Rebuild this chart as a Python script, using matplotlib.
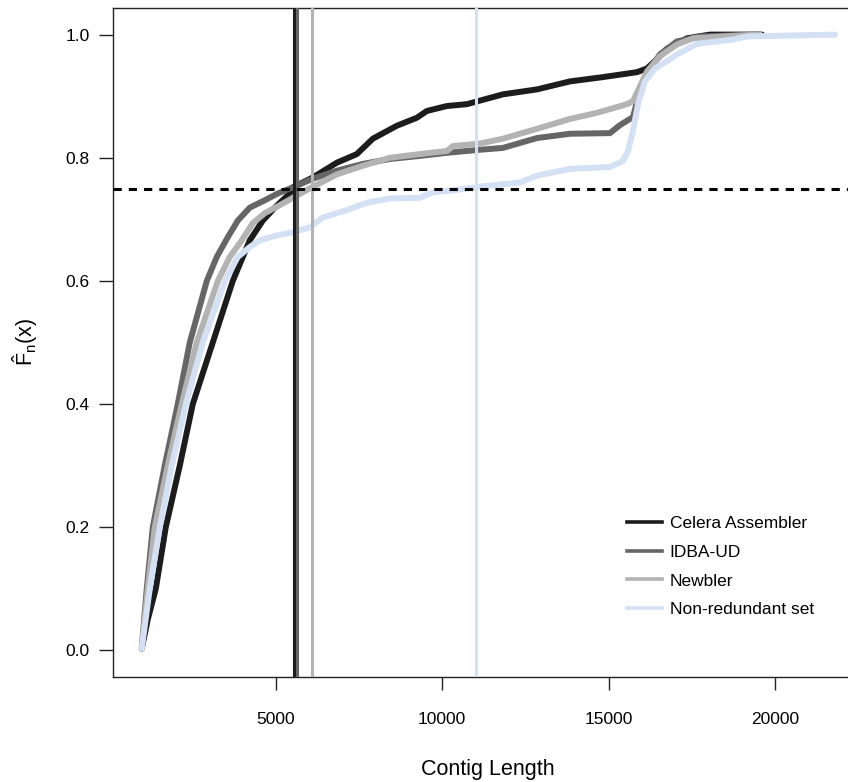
import matplotlib
matplotlib.use("Agg")
import matplotlib.pyplot as plt
from matplotlib.lines import Line2D

plt.rcParams['font.family'] = ['Liberation Sans', 'DejaVu Sans']
plt.rcParams['mathtext.fontset'] = 'custom'
plt.rcParams['mathtext.rm'] = 'Liberation Sans'
plt.rcParams['mathtext.it'] = 'Liberation Sans'

# ---- data ----
series_names = ["Celera Assembler", "IDBA-UD", "Newbler", "Non-redundant set"]
series_colors = ["#1c1c1c", "#666666", "#b3b3b3", "#d4e0f3"]

celera_len = [972, 1152, 1393, 1693, 2114, 2505, 3106, 3707, 4218, 4609, 4970, 5421, 5511,
              6112, 6834, 7435, 7916, 8637, 9238, 9539, 10140, 10741, 11824, 12846, 13838, 14830, 15852,
              16152, 16453, 16753, 17355, 18046, 19609]
celera_F = [0.003, 0.05, 0.1, 0.2, 0.3, 0.4, 0.5, 0.6, 0.666, 0.698, 0.719, 0.742,
            0.752, 0.768, 0.792, 0.806, 0.831, 0.852, 0.865, 0.876, 0.884, 0.887, 0.903, 0.911, 0.924, 0.931,
            0.939, 0.945, 0.960, 0.977, 0.994, 1.0, 1.0]

idba_len = [972, 1122, 1303, 1663, 2054, 2415, 2926, 3226, 3557, 3858, 4218, 4669, 5060, 5511,
            6112, 6834, 7615, 8427, 9329, 10140, 11132, 11824, 12846, 13838, 15040, 15341, 15731, 15882,
            16152, 16543, 17054, 17745, 19549]
idba_F = [0.003, 0.1, 0.2, 0.3, 0.4, 0.5, 0.6, 0.639, 0.671, 0.698, 0.719, 0.731,
          0.742, 0.752, 0.766, 0.779, 0.790, 0.798, 0.803, 0.808, 0.813, 0.816, 0.832, 0.839, 0.840, 0.853,
          0.866, 0.897, 0.937, 0.968, 0.989, 0.997, 1.0]

newbler_len = [972, 1152, 1363, 1754, 2174, 2625, 3257, 3617, 3978, 4309, 4669, 5120, 5511,
               6082, 6834, 7615, 8427, 9329, 10140, 10321, 11132, 11824, 12846, 13838, 14649, 15040, 15551,
               15731, 15942, 16152, 16543, 17054, 17535, 18737, 19549]
newbler_F = [0.003, 0.1, 0.2, 0.3, 0.4, 0.5, 0.6, 0.639, 0.666, 0.694, 0.710,
             0.723, 0.735, 0.752, 0.773, 0.787, 0.800, 0.806, 0.811, 0.819, 0.823, 0.831, 0.847, 0.863, 0.873,
             0.879, 0.887, 0.892, 0.916, 0.940, 0.965, 0.984, 0.994, 0.998, 1.0]

nr_len = [972, 1212, 1513, 1874, 2295, 2806, 3467, 3858, 4218, 4519, 5030, 5511, 6022,
          6413, 7134, 7735, 8427, 9329, 9719, 10321, 11132, 12335, 12846, 13838, 15040, 15431, 15581, 15731,
          15882, 16092, 16393, 16844, 17054, 17655, 18737, 19158, 21804]
nr_F = [0.003, 0.1, 0.2, 0.3, 0.4, 0.5, 0.6, 0.639, 0.655, 0.666, 0.674,
        0.679, 0.687, 0.703, 0.715, 0.727, 0.734, 0.735, 0.744, 0.747, 0.753, 0.760, 0.771, 0.782, 0.785,
        0.795, 0.811, 0.844, 0.887, 0.924, 0.945, 0.960, 0.968, 0.985, 0.992, 0.997, 1.0]

# lengths where each ECDF reaches 0.75
q75_lengths = [5550, 5622, 6073, 11003]
threshold = 0.75

x_ticks = [5000, 10000, 15000, 20000]
y_ticks = [0.0, 0.2, 0.4, 0.6, 0.8, 1.0]

# ---- figure ----
W, H = 848, 782
fig = plt.figure(figsize=(W / 100, H / 100), dpi=100)
left, right, top, bottom = 113, 862.7, 8, 677
ax = fig.add_axes([left / W, 1 - bottom / H, (right - left) / W, (bottom - top) / H])

curves = [(celera_len, celera_F), (idba_len, idba_F), (newbler_len, newbler_F), (nr_len, nr_F)]
for (xs, ys), c in zip(curves, series_colors):
    ax.plot(xs, ys, color=c, lw=4.3, solid_capstyle='round', solid_joinstyle='round', zorder=2)

for v, c in zip(q75_lengths, series_colors):
    ax.axvline(v, color=c, lw=2.2, zorder=3)

hl = ax.axhline(threshold, color='black', lw=2.2, zorder=4)
hl.set_dashes([2.7, 2.3])

ax.set_xlim(108, 22634)
ax.set_ylim(-0.0432, 1.0432)

ax.set_xticks(x_ticks)
ax.set_xticklabels([str(t) for t in x_ticks])
ax.set_yticks(y_ticks)
ax.set_yticklabels([f"{t:.1f}" for t in y_ticks])
ax.tick_params(axis='x', length=9.5, width=1, pad=16, labelsize=12.5, color='#222222')
ax.tick_params(axis='y', length=10, width=1, pad=7, labelsize=12.5, color='#222222')
for s in ax.spines.values():
    s.set_linewidth(1.0)
    s.set_color('#222222')

ax.set_xlabel("Contig Length", fontsize=15.5, labelpad=23)
ax.set_ylabel(r'$\hat{\mathrm{F}}_{\mathrm{n}}(\mathrm{x})$', fontsize=15.5, labelpad=18)

handles = [Line2D([0], [0], color=c, lw=2.6) for c in series_colors]
ax.legend(handles, series_names, loc='upper left',
          bbox_to_anchor=(627 / W, 1 - 516 / H), bbox_transform=fig.transFigure,
          frameon=False, fontsize=12.5, handlelength=2.0, handletextpad=0.45,
          labelspacing=0.78, borderpad=0, borderaxespad=0)

fig.savefig("out.png", dpi=100)
